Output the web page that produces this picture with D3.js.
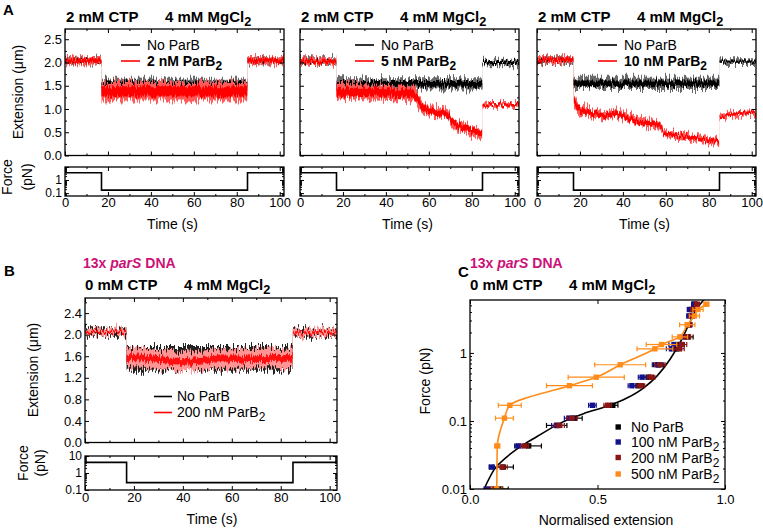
<!DOCTYPE html>
<html>
<head>
<meta charset="utf-8">
<script src="https://cdn.jsdelivr.net/npm/d3@7"></script>
<style>
  body { margin: 0; background: #fff; }
  svg text { font-family: "Liberation Sans", Arial, Helvetica, sans-serif; }
</style>
</head>
<body>
<svg id="fig" width="763" height="529"></svg>
<script>
// ---- data ----
// panel A traces: time (s), mean extension (um), noise half-width (um)
var aTime = [0, 16.9, 17.0, 84.9, 85.0, 102];
var a1Black = [2.04, 2.04, 1.53, 1.53, 2.04, 2.04];
var a1BlackNoise = [0.06, 0.06, 0.12, 0.12, 0.06, 0.06];
var a1Red = [2.04, 2.04, 1.38, 1.38, 2.04, 2.04];
var a1RedNoise = [0.08, 0.08, 0.2, 0.2, 0.08, 0.08];

var a2Black = [2.03, 2.03, 1.54, 1.54, 2.0, 2.0];
var a2BlackNoise = [0.06, 0.06, 0.12, 0.12, 0.06, 0.06];
var a2RedTime = [0, 16.9, 17.0, 30, 45, 53, 55, 57, 60, 66, 69, 72, 76, 80, 84.8, 85.0, 88, 102];
var a2Red = [2.02, 2.02, 1.36, 1.37, 1.35, 1.32, 1.18, 1.05, 0.95, 0.92, 0.86, 0.67, 0.6, 0.55, 0.45, 1.06, 1.1, 1.1];
var a2RedNoise = [0.07, 0.07, 0.18, 0.16, 0.16, 0.16, 0.15, 0.13, 0.11, 0.11, 0.11, 0.11, 0.11, 0.11, 0.11, 0.05, 0.05, 0.05];

var a3Black = [2.05, 2.05, 1.55, 1.55, 2.02, 2.02];
var a3BlackNoise = [0.06, 0.06, 0.12, 0.12, 0.05, 0.05];
var a3RedTime = [0, 16.9, 17.2, 18.5, 20, 26, 32, 37, 42, 48, 52, 57, 59, 63, 70, 76, 82, 84.8, 85.0, 88, 94, 102];
var a3Red = [2.05, 2.05, 1.2, 1.05, 0.98, 0.9, 0.86, 0.9, 0.8, 0.72, 0.7, 0.66, 0.48, 0.45, 0.4, 0.36, 0.31, 0.27, 0.85, 0.86, 0.9, 0.93];
var a3RedNoise = [0.07, 0.07, 0.14, 0.12, 0.11, 0.09, 0.09, 0.09, 0.09, 0.09, 0.09, 0.09, 0.07, 0.07, 0.07, 0.07, 0.07, 0.07, 0.05, 0.05, 0.05, 0.05];

var aForceTime = [0, 17, 17, 85, 85, 102];
var aForce = [3.6, 3.6, 0.17, 0.17, 3.6, 3.6];
var aLegend = ['2 nM ParB', '5 nM ParB', '10 nM ParB'];

// panel B traces
var bBlackTime = [0, 16.9, 17.0, 84.9, 85.0, 103];
var bBlack = [2.05, 2.05, 1.55, 1.55, 2.05, 2.05];
var bBlackNoise = [0.07, 0.07, 0.22, 0.22, 0.07, 0.07];
var bRedTime = [0, 16.9, 17.0, 25, 40, 55, 84.9, 85.0, 103];
var bRed = [2.05, 2.05, 1.58, 1.56, 1.5, 1.55, 1.56, 2.04, 2.04];
var bRedNoise = [0.06, 0.06, 0.18, 0.18, 0.18, 0.18, 0.18, 0.07, 0.07];
var bForceTime = [0, 17, 17, 85, 85, 103];
var bForce = [4.2, 4.2, 0.27, 0.27, 4.2, 4.2];

// panel C: force (pN) vs normalised extension (+/- error)
var cForce = [0.01, 0.021, 0.043, 0.086, 0.11, 0.17, 0.33, 0.44, 0.67, 1.15, 1.33, 1.72, 2.6, 3.5, 4.35, 5.2];
var noParbExt = [0.12, 0.13, 0.23, 0.34, 0.41, 0.56, 0.66, 0.70, 0.74, 0.81, 0.82, 0.855, 0.86, 0.87, 0.87, 0.88];
var noParbErr = [0.03, 0.04, 0.05, 0.04, 0.03, 0.02, 0.02, 0.02, 0.02, 0.02, 0.02, 0.02, 0.01, 0.01, 0.01, 0.01];
var p100Ext = [0.07, 0.085, 0.19, 0.34, 0.39, 0.48, 0.635, 0.675, 0.735, 0.79, 0.80, 0.835, 0.855, 0.86, 0.862, 0.88];
var p100Err = [0.015, 0.01, 0.015, 0.02, 0.02, 0.015, 0.015, 0.015, 0.02, 0.02, 0.02, 0.015, 0.01, 0.01, 0.01, 0.01];
var p200Ext = [0.09, 0.126, 0.215, 0.35, 0.40, 0.54, 0.67, 0.71, 0.745, 0.82, 0.83, 0.85, 0.86, 0.87, 0.875, 0.89];
var p200Err = [0.02, 0.02, 0.015, 0.02, 0.02, 0.015, 0.015, 0.015, 0.02, 0.02, 0.02, 0.015, 0.01, 0.01, 0.01, 0.01];
var p500Force = [0.01, 0.043, 0.11, 0.17, 0.33, 0.44, 0.67, 1.15, 1.33, 1.72, 2.6, 3.5, 4.35, 5.2];
var p500Ext = [0.105, 0.107, 0.135, 0.156, 0.39, 0.495, 0.589, 0.725, 0.751, 0.823, 0.852, 0.88, 0.894, 0.927];
var p500Err = [0.02, 0.01, 0.035, 0.045, 0.09, 0.11, 0.1, 0.07, 0.06, 0.03, 0.03, 0.02, 0.02, 0.01];
// black fit line
var fitExt = [0.055, 0.094, 0.146, 0.198, 0.263, 0.354, 0.445, 0.536, 0.615, 0.68, 0.732, 0.784, 0.823, 0.855, 0.888, 0.92];
var fitForce = [0.01, 0.0191, 0.030, 0.042, 0.059, 0.093, 0.128, 0.164, 0.217, 0.305, 0.453, 0.80, 1.40, 2.47, 4.35, 6.25];
var cLegend = ['No ParB', '100 nM ParB', '200 nM ParB', '500 nM ParB'];
var cColors = ['#000000', '#12128c', '#8c1616', '#ff8c1a'];

var MAGENTA = '#cc1278';
var svg = d3.select('#fig');

// ---- filters: vertical jitter so the bands read as noisy traces ----
var defs = svg.append('defs');
function jitterFilter(id, seed, scale) {
  var f = defs.append('filter').attr('id', id).attr('filterUnits', 'userSpaceOnUse')
    .attr('x', 0).attr('y', 0).attr('width', 763).attr('height', 529)
    .attr('color-interpolation-filters', 'sRGB');
  f.append('feTurbulence').attr('type', 'fractalNoise').attr('baseFrequency', '0.9 0.004')
    .attr('numOctaves', 2).attr('seed', seed).attr('result', 'n');
  f.append('feColorMatrix').attr('in', 'n').attr('type', 'matrix')
    .attr('values', '0 0 0 0 0.5  0 1 0 0 0  0 0 0 0 0  0 0 0 0 1').attr('result', 'm');
  f.append('feDisplacementMap').attr('in', 'SourceGraphic').attr('in2', 'm')
    .attr('scale', scale).attr('xChannelSelector', 'R').attr('yChannelSelector', 'G');
}
jitterFilter('jo1', 3, 16);
jitterFilter('ji1', 11, 9);
jitterFilter('jo2', 21, 16);
jitterFilter('ji2', 37, 9);

// ---- helpers ----
function logMinor(lo, hi) {
  var out = [];
  for (var d = 0.001; d <= 100; d *= 10) {
    for (var k = 2; k <= 9; k++) {
      var v = +(d * k).toPrecision(3);
      if (v > lo && v < hi) out.push(v);
    }
  }
  return out;
}

function styleAxis(g) {
  g.select('.domain').remove();
  g.attr('font-size', 13).attr('font-family', null);
  g.selectAll('line').attr('stroke-width', 1);
}

// box with inward ticks on all four sides
function frame(g, x, y, o) {
  var y0 = y.range()[0], y1 = y.range()[1];
  var x0 = x.range()[0], x1 = x.range()[1];
  g.append('g').attr('transform', 'translate(0,' + y0 + ')')
    .call(d3.axisBottom(x).tickValues(o.xMajor).tickSize(-4).tickPadding(o.xPad)
      .tickFormat(o.xFmt ? o.xFmt : ''))
    .call(styleAxis);
  g.append('g').attr('transform', 'translate(0,' + y1 + ')')
    .call(d3.axisTop(x).tickValues(o.xMajor).tickSize(-4).tickFormat(''))
    .call(styleAxis);
  if (o.xMinor) {
    g.append('g').attr('transform', 'translate(0,' + y0 + ')')
      .call(d3.axisBottom(x).tickValues(o.xMinor).tickSize(-2).tickFormat('')).call(styleAxis);
    g.append('g').attr('transform', 'translate(0,' + y1 + ')')
      .call(d3.axisTop(x).tickValues(o.xMinor).tickSize(-2).tickFormat('')).call(styleAxis);
  }
  var yl = g.append('g').attr('transform', 'translate(' + x0 + ',0)')
    .call(d3.axisLeft(y).tickValues(o.yMajor).tickSize(-4).tickPadding(3)
      .tickFormat(o.yFmt ? o.yFmt : ''))
    .call(styleAxis);
  if (o.yFont) yl.attr('font-size', o.yFont);
  g.append('g').attr('transform', 'translate(' + x1 + ',0)')
    .call(d3.axisRight(y).tickValues(o.yMajor).tickSize(-4).tickFormat(''))
    .call(styleAxis);
  if (o.yMinor) {
    g.append('g').attr('transform', 'translate(' + x0 + ',0)')
      .call(d3.axisLeft(y).tickValues(o.yMinor).tickSize(-2).tickFormat('')).call(styleAxis);
    g.append('g').attr('transform', 'translate(' + x1 + ',0)')
      .call(d3.axisRight(y).tickValues(o.yMinor).tickSize(-2).tickFormat('')).call(styleAxis);
  }
  g.append('rect').attr('x', x0).attr('y', y1)
    .attr('width', x1 - x0).attr('height', y0 - y1)
    .attr('fill', 'none').attr('stroke', '#000').attr('stroke-width', 1.3);
}

var clipId = 0;
function clipTo(g, x, y) {
  clipId++;
  g.append('clipPath').attr('id', 'clip' + clipId).append('rect')
    .attr('x', x.range()[0]).attr('y', y.range()[1])
    .attr('width', x.range()[1] - x.range()[0]).attr('height', y.range()[0] - y.range()[1]);
  return g.append('g').attr('clip-path', 'url(#clip' + clipId + ')');
}

// noisy trace drawn as an outer band (spikes) and an inner core band
function trace(g, x, y, t, mid, noise, outerCol, innerCol, coreFrac, fk) {
  var rows = t.map(function(d, i) { return {t: d, m: mid[i], n: noise[i]}; });
  var outer = d3.area().x(function(d) { return x(d.t); })
    .y0(function(d) { return y(d.m - d.n); }).y1(function(d) { return y(d.m + d.n); });
  var inner = d3.area().x(function(d) { return x(d.t); })
    .y0(function(d) { return y(d.m - d.n * coreFrac); }).y1(function(d) { return y(d.m + d.n * coreFrac); });
  g.append('g').attr('filter', 'url(#jo' + fk + ')')
    .append('path').datum(rows).attr('d', outer).attr('fill', outerCol);
  g.append('g').attr('filter', 'url(#ji' + fk + ')')
    .append('path').datum(rows).attr('d', inner).attr('fill', innerCol);
}

function forceLine(g, x, y, t, f) {
  var line = d3.line().x(function(d, i) { return x(t[i]); }).y(function(d) { return y(d); });
  g.append('path').datum(f).attr('d', line).attr('fill', 'none')
    .attr('stroke', '#000').attr('stroke-width', 1.6);
}

function withSub(sel, main, s, fs) {
  sel.append('tspan').text(main);
  sel.append('tspan').attr('dy', 4).attr('font-size', fs * 0.85).text(s);
}

function conditionTitle(x, y, ctp) {
  svg.append('text').attr('x', x).attr('y', y).attr('font-size', 15)
    .attr('font-weight', 'bold').text(ctp);
  withSub(svg.append('text').attr('x', x + 99).attr('y', y).attr('font-size', 15)
    .attr('font-weight', 'bold'), '4 mM MgCl', '2', 15);
}

function parsTitle(x, y) {
  var t = svg.append('text').attr('x', x).attr('y', y).attr('font-size', 14)
    .attr('font-weight', 'bold').attr('fill', MAGENTA);
  t.append('tspan').text('13x ');
  t.append('tspan').attr('font-style', 'italic').text('parS');
  t.append('tspan').text(' DNA');
}

function rotLabel(x, y, txt, fs) {
  svg.append('text').attr('transform', 'translate(' + x + ',' + y + ') rotate(-90)')
    .attr('text-anchor', 'middle').attr('font-size', fs).text(txt);
}

// ---- panel A ----
svg.append('text').attr('x', 3).attr('y', 15).attr('font-size', 15).attr('font-weight', 'bold').text('A');
var aLefts = [65, 300, 537];
var aW = 219;
var aPanels = [
  {black: a1Black, blackNoise: a1BlackNoise, redTime: aTime, red: a1Red, redNoise: a1RedNoise, leg: 56},
  {black: a2Black, blackNoise: a2BlackNoise, redTime: a2RedTime, red: a2Red, redNoise: a2RedNoise, leg: 55},
  {black: a3Black, blackNoise: a3BlackNoise, redTime: a3RedTime, red: a3Red, redNoise: a3RedNoise, leg: 61}
];
aPanels.forEach(function(p, i) {
  var left = aLefts[i];
  var g = svg.append('g');
  var x = d3.scaleLinear().domain([0, 102]).range([left, left + aW]);
  var yE = d3.scaleLinear().domain([0, 2.72]).range([155.5, 29]);
  var yF = d3.scaleLog().domain([0.06, 10]).range([196, 167]);

  conditionTitle(left + 1, 22, '2 mM CTP');

  var c = clipTo(g, x, yE);
  trace(c, x, yE, aTime, p.black, p.blackNoise, '#6a6a6a', '#000', 0.5, 1);
  trace(c, x, yE, p.redTime, p.red, p.redNoise, '#ff5a5a', '#ff0000', 0.55, 2);

  frame(g, x, yE, {
    xMajor: [0, 20, 40, 60, 80, 100], xMinor: [10, 30, 50, 70, 90], xPad: 3,
    yMajor: [0, 0.5, 1, 1.5, 2, 2.5], yMinor: [0.25, 0.75, 1.25, 1.75, 2.25],
    yFmt: i === 0 ? d3.format('.1f') : null
  });

  var cf = clipTo(g, x, yF);
  forceLine(cf, x, yF, aForceTime, aForce);
  frame(g, x, yF, {
    xMajor: [0, 20, 40, 60, 80, 100], xMinor: [10, 30, 50, 70, 90], xPad: 2,
    xFmt: d3.format('d'), yFont: 12,
    yMajor: [0.1, 1, 10], yMinor: logMinor(0.06, 10),
    yFmt: i === 0 ? function(d) { return d === 10 ? '' : d3.format('~g')(d); } : null
  });
  svg.append('text').attr('x', left + aW / 2 - 2).attr('y', 229).attr('text-anchor', 'middle')
    .attr('font-size', 14).text('Time (s)');

  // legend
  var lx = left + p.leg;
  svg.append('line').attr('x1', lx).attr('x2', lx + 19).attr('y1', 45).attr('y2', 45)
    .attr('stroke', '#000').attr('stroke-width', 1.6);
  svg.append('line').attr('x1', lx).attr('x2', lx + 19).attr('y1', 61).attr('y2', 61)
    .attr('stroke', '#ff0000').attr('stroke-width', 1.6);
  svg.append('text').attr('x', lx + 26).attr('y', 49.5).attr('font-size', 14).text('No ParB');
  withSub(svg.append('text').attr('x', lx + 26).attr('y', 66).attr('font-size', 14)
    .attr('font-weight', 'bold'), aLegend[i], '2', 14);
});
rotLabel(22.5, 92, 'Extension (\u03bcm)', 14);
rotLabel(12, 177, 'Force', 14);
rotLabel(32, 177, '(pN)', 14);

// ---- panel B ----
svg.append('text').attr('x', 4).attr('y', 276).attr('font-size', 15).attr('font-weight', 'bold').text('B');
parsTitle(83, 268);
conditionTitle(85, 290, '0 mM CTP');
(function() {
  var g = svg.append('g');
  var x = d3.scaleLinear().domain([0, 103]).range([85, 337]);
  var yE = d3.scaleLinear().domain([0, 2.68]).range([442.5, 298]);
  var yF = d3.scaleLog().domain([0.1, 10]).range([490, 456]);

  var c = clipTo(g, x, yE);
  trace(c, x, yE, bBlackTime, bBlack, bBlackNoise, '#222', '#000', 0.4, 1);
  trace(c, x, yE, bRedTime, bRed, bRedNoise, '#ff9494', '#ff1010', 0.35, 2);
  frame(g, x, yE, {
    xMajor: [0, 20, 40, 60, 80, 100], xMinor: [10, 30, 50, 70, 90], xPad: 3,
    yMajor: [0, 0.4, 0.8, 1.2, 1.6, 2.0, 2.4], yMinor: [0.2, 0.6, 1.0, 1.4, 1.8, 2.2, 2.6],
    yFmt: d3.format('.1f')
  });

  var cf = clipTo(g, x, yF);
  forceLine(cf, x, yF, bForceTime, bForce);
  frame(g, x, yF, {
    xMajor: [0, 20, 40, 60, 80, 100], xMinor: [10, 30, 50, 70, 90], xPad: 3,
    xFmt: d3.format('d'), yFont: 12,
    yMajor: [0.1, 1, 10], yMinor: logMinor(0.1, 10),
    yFmt: d3.format('~g')
  });
  svg.append('text').attr('x', 212).attr('y', 524).attr('text-anchor', 'middle')
    .attr('font-size', 14).text('Time (s)');

  svg.append('line').attr('x1', 154).attr('x2', 172).attr('y1', 396.5).attr('y2', 396.5)
    .attr('stroke', '#000').attr('stroke-width', 1.6);
  svg.append('line').attr('x1', 154).attr('x2', 172).attr('y1', 412.5).attr('y2', 412.5)
    .attr('stroke', '#ff0000').attr('stroke-width', 1.6);
  svg.append('text').attr('x', 177).attr('y', 401).attr('font-size', 14).text('No ParB');
  withSub(svg.append('text').attr('x', 177).attr('y', 417).attr('font-size', 14), '200 nM ParB', '2', 14);
})();
rotLabel(38, 370, 'Extension (\u03bcm)', 14);
rotLabel(28, 463, 'Force', 14);
rotLabel(45, 463, '(pN)', 14);

// ---- panel C ----
svg.append('text').attr('x', 458).attr('y', 277).attr('font-size', 15).attr('font-weight', 'bold').text('C');
parsTitle(470, 268);
conditionTitle(470, 290, '0 mM CTP');
(function() {
  var g = svg.append('g');
  var x = d3.scaleLinear().domain([0, 1]).range([470, 725]);
  var y = d3.scaleLog().domain([0.01, 6]).range([489, 300]);
  var c = clipTo(g, x, y);

  var fitLine = d3.line().curve(d3.curveMonotoneX)
    .x(function(d, i) { return x(fitExt[i]); }).y(function(d) { return y(d); });
  c.append('path').datum(fitForce).attr('d', fitLine).attr('fill', 'none')
    .attr('stroke', '#000').attr('stroke-width', 1.6);

  var series = [
    {f: cForce, e: noParbExt, err: noParbErr},
    {f: cForce, e: p100Ext, err: p100Err},
    {f: cForce, e: p200Ext, err: p200Err},
    {f: p500Force, e: p500Ext, err: p500Err}
  ];
  series.forEach(function(s, k) {
    var col = cColors[k];
    var sg = c.append('g');
    if (k === 3) {
      var line = d3.line().curve(d3.curveMonotoneY)
        .x(function(d, i) { return x(s.e[i]); }).y(function(d) { return y(d); });
      sg.append('path').datum(s.f).attr('d', line).attr('fill', 'none')
        .attr('stroke', col).attr('stroke-width', 1.6);
    }
    s.f.forEach(function(f, i) {
      var cx = x(s.e[i]), cy = y(f);
      var xa = x(s.e[i] - s.err[i]), xb = x(s.e[i] + s.err[i]);
      sg.append('line').attr('x1', xa).attr('x2', xb).attr('y1', cy).attr('y2', cy)
        .attr('stroke', col).attr('stroke-width', 1.2);
      [xa, xb].forEach(function(xx) {
        sg.append('line').attr('x1', xx).attr('x2', xx).attr('y1', cy - 2.5).attr('y2', cy + 2.5)
          .attr('stroke', col).attr('stroke-width', 1.2);
      });
      sg.append('rect').attr('x', cx - 2.7).attr('y', cy - 2.7).attr('width', 5.4).attr('height', 5.4)
        .attr('fill', col);
    });
  });

  frame(g, x, y, {
    xMajor: [0, 0.5, 1], xPad: 6, xFmt: d3.format('.1f'),
    yMajor: [0.01, 0.1, 1], yMinor: logMinor(0.01, 6),
    yFmt: d3.format('~g')
  });

  cLegend.forEach(function(name, k) {
    var ly = [427, 442, 457.5, 474][k];
    svg.append('rect').attr('x', 615.5).attr('y', ly - 2.7).attr('width', 5.4).attr('height', 5.4)
      .attr('fill', cColors[k]);
    var t = svg.append('text').attr('x', 631).attr('y', ly + 5).attr('font-size', 14);
    if (k === 0) t.text(name);
    else withSub(t, name, '2', 14);
  });
  svg.append('text').attr('x', 606).attr('y', 525).attr('text-anchor', 'middle')
    .attr('font-size', 14).text('Normalised extension');
})();
rotLabel(430, 381, 'Force (pN)', 14);
</script>
</body>
</html>
